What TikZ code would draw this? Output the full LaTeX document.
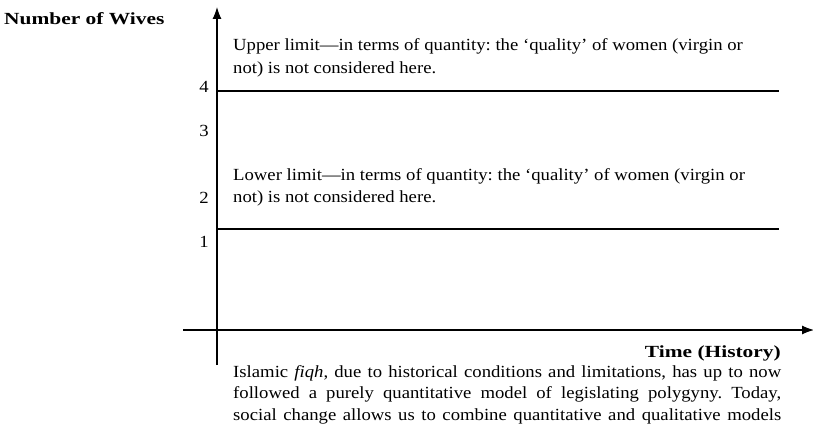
\documentclass[tikz,border=0pt]{standalone}
\usepackage{fontspec}
\setmainfont{Liberation Serif}[FakeStretch=1.1]
\newfontfamily\titlefont{Liberation Serif}[FakeStretch=1.26]
\usetikzlibrary{arrows.meta}
\frenchspacing
\begin{document}
\begin{tikzpicture}[x=1pt,y=-1pt,
  axis/.style={line width=1.1pt,-{Latex[length=12pt,width=9pt]}},
  limit/.style={line width=1.1pt},
  txt/.style={font=\fontsize{17}{22.7}\selectfont,inner sep=0pt,align=left,anchor=base west},
  para/.style={font=\fontsize{17}{21.7}\selectfont\frenchspacing,inner sep=0pt,align=left,anchor=base west},
  num/.style={font=\fontsize{17}{18}\selectfont,inner sep=0pt,anchor=base east},
  ttl/.style={font=\titlefont\fontsize{17}{18}\selectfont\bfseries,inner sep=0pt}]
\useasboundingbox (0,0) rectangle (813,433);
\coordinate (ybot) at (217,365);
\coordinate (ytop) at (217,7);
\coordinate (xl) at (183,330);
\coordinate (xr) at (814,330);
\draw[axis] (ybot) -- (ytop);
\draw[axis] (xl) -- (xr);
\coordinate (u1) at (217,91); \coordinate (u2) at (779,91);
\coordinate (l1) at (217,229); \coordinate (l2) at (779,229);
\draw[limit] (u1) -- (u2);
\draw[limit] (l1) -- (l2);
\node[ttl,anchor=base west] (yl) at (4,24.5) {Number of Wives};
\node[ttl,anchor=base east] (xlab) at (781,357.5) {Time (History)};
\node[num] (n4) at (209,93) {4};
\node[num] (n3) at (209,136) {3};
\node[num] (n2) at (209,203) {2};
\node[num] (n1) at (209,247) {1};
\node[txt] (up) at (233,73.2) {Upper limit—in terms of quantity: the ‘quality’ of women (virgin or\\not) is not considered here.};
\node[txt] (lo) at (233,202.7) {Lower limit—in terms of quantity: the ‘quality’ of women (virgin or\\not) is not considered here.};
\node[para] (para) at (233,420.4) {\makebox[548pt][s]{Islamic \emph{fiqh}, due to historical conditions and limitations, has up to now}\\\makebox[548pt][s]{followed a purely quantitative model of legislating polygyny. Today,}\\\makebox[548pt][s]{social change allows us to combine quantitative and qualitative models}};
\end{tikzpicture}
\end{document}
